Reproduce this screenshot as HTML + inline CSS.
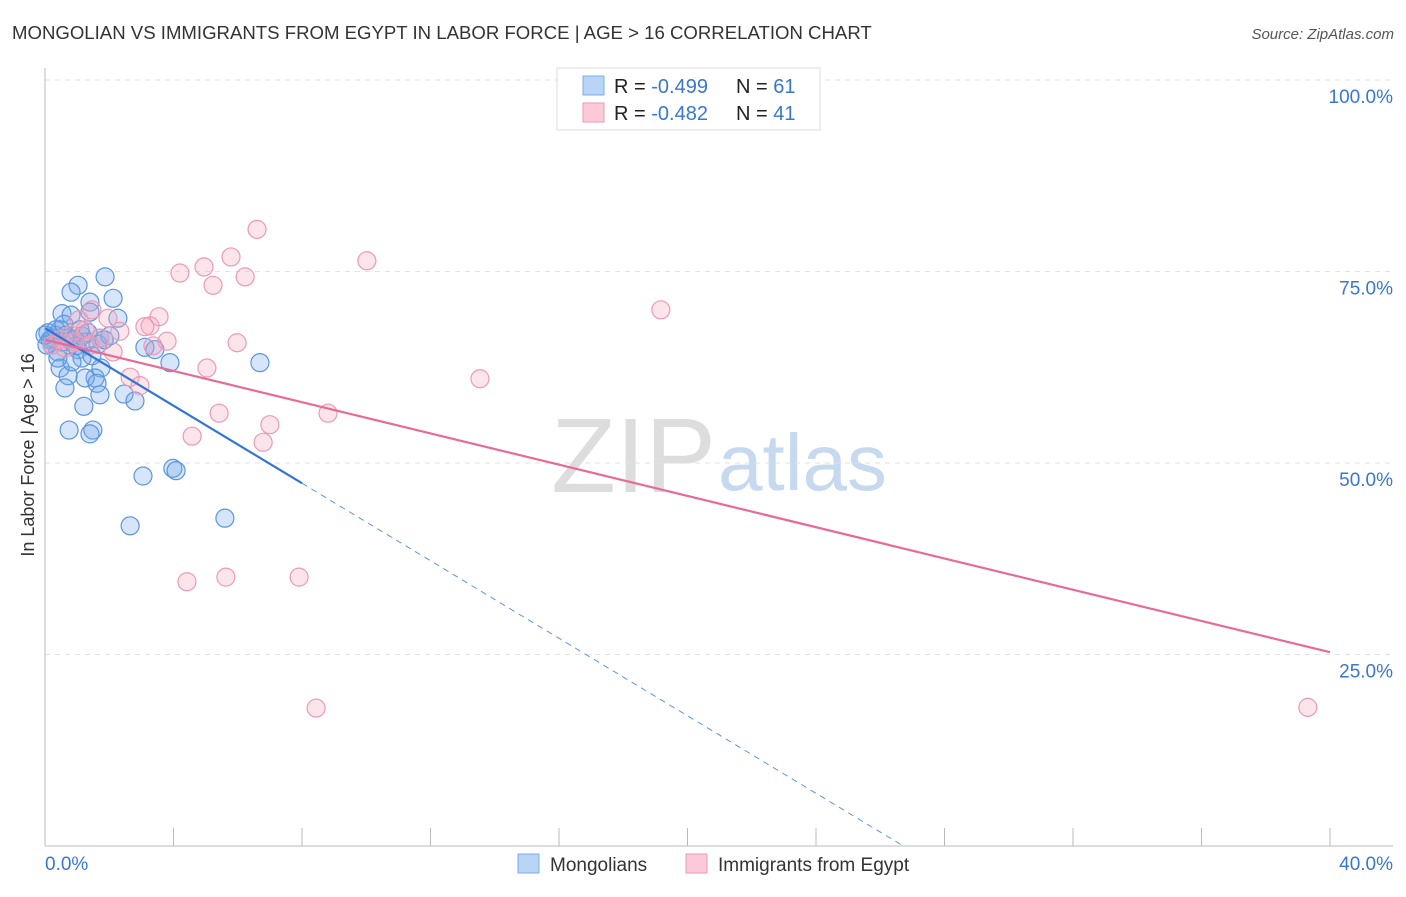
<!DOCTYPE html>
<html><head><meta charset="utf-8">
<style>
body{margin:0;background:#fff;font-family:"Liberation Sans",sans-serif;}
svg text{font-family:"Liberation Sans",sans-serif;}
</style></head>
<body>
<svg id="chart" width="1406" height="892">
<text x="12" y="39" font-size="18.6" fill="#333">MONGOLIAN VS IMMIGRANTS FROM EGYPT IN LABOR FORCE | AGE &gt; 16 CORRELATION CHART</text>
<text x="1394" y="39" font-size="15" fill="#555" font-style="italic" text-anchor="end">Source: ZipAtlas.com</text>
<text x="716" y="492" font-size="106" fill="#ddd" text-anchor="end" font-family="Liberation Serif">ZIP</text>
<text x="718" y="490" font-size="80" fill="#c6d9ef">atlas</text>
<text transform="translate(34,455) rotate(-90)" font-size="18" fill="#333" text-anchor="middle">In Labor Force | Age &gt; 16</text>
<g id="grid"></g><g id="axes"></g><g id="pts"></g><g id="lines"></g>
<g>
<rect x="557" y="68" width="263" height="62" fill="#fff" stroke="#ddd"/>
<rect x="583" y="76" width="21" height="19" fill="#b9d4f5" stroke="#7aaee8"/>
<rect x="583" y="103" width="21" height="19" fill="#fcc9d8" stroke="#ee9ab5"/>
<text x="614" y="93" font-size="20" fill="#222">R = <tspan fill="#3a76d0">-0.499</tspan><tspan x="736">N = </tspan><tspan fill="#3a76d0">61</tspan></text>
<text x="614" y="120" font-size="20" fill="#222">R = <tspan fill="#3a76d0">-0.482</tspan><tspan x="736">N = </tspan><tspan fill="#3a76d0">41</tspan></text>
</g>
<g>
<rect x="518" y="854" width="21" height="19" fill="#b9d4f5" stroke="#7aaee8"/>
<text x="550" y="871" font-size="19" fill="#333">Mongolians</text>
<rect x="686" y="854" width="21" height="19" fill="#fcc9d8" stroke="#ee9ab5"/>
<text x="718" y="871" font-size="19" fill="#333">Immigrants from Egypt</text>
</g>
</svg>
<script>
const blueX=[1.87,1.03,0.81,2.12,1.40,0.53,0.81,1.40,2.27,0.47,0.31,0.72,1.15,1.71,1.34,0.16,0.22,0.40,0.93,1.03,3.11,3.42,3.89,6.69,0.47,1.74,1.15,0.72,1.56,1.25,1.62,0.62,2.46,2.80,1.21,0.75,1.49,1.40,3.05,3.98,4.08,2.65,5.60,0.09,0.22,0.53,0.96,0.34,0.65,1.28,1.65,2.02,1.09,0.59,1.84,0.06,0.40,0.84,1.46,0.0,1.71];
const blueY=[74.3,73.2,72.3,71.5,71.0,69.5,69.3,69.7,68.9,67.4,66.7,66.3,66.6,66.3,67.0,66.1,65.4,64.5,66.1,64.8,65.1,64.8,63.1,63.1,62.4,62.4,63.7,61.4,61.1,61.1,60.4,59.8,59.0,58.1,57.4,54.3,54.3,53.8,48.3,49.3,49.0,41.8,42.8,67.0,66.3,65.8,65.3,67.4,66.7,65.8,65.5,66.6,67.4,68.1,66.1,65.4,63.7,63.2,64.0,66.7,58.9];
const pinkX=[6.60,10.02,5.79,4.95,4.20,6.23,5.23,19.17,3.55,1.46,1.96,1.06,3.27,3.11,2.33,3.80,5.98,3.36,2.12,5.04,2.65,2.96,13.54,5.42,8.81,7.00,4.58,6.79,4.42,5.63,7.91,8.44,39.31,0.47,0.78,1.25,1.71,0.22,0.62,0.93,1.40];
const pinkY=[80.5,76.4,76.9,75.6,74.8,74.3,73.2,70.0,69.1,70.0,68.9,68.7,67.9,67.8,67.2,65.9,65.7,65.3,64.5,62.4,61.2,60.1,61.0,56.5,56.5,55.0,53.5,52.7,34.5,35.1,35.1,18.0,18.1,66.1,66.7,67.4,66.3,65.4,65.0,65.8,65.4];
const blueTrend=[67.6,-2.53];   // intercept, slope
const pinkTrend=[66.1,-1.02];
const yTicks=[25,50,75,100];
const xTickLabels=["0.0%","40.0%"];
const NS="http://www.w3.org/2000/svg";
const X=v=>45+v*32.125, Y=v=>846-v*7.66;
function mk(tag,attrs,parent){const e=document.createElementNS(NS,tag);for(const k in attrs)e.setAttribute(k,attrs[k]);document.getElementById(parent).appendChild(e);return e;}
yTicks.forEach(t=>{
  const g=mk('line',{x1:45,x2:1393,y1:Y(t),y2:Y(t),stroke:'#e2e2e2','stroke-dasharray':'5,5'},'grid');
  
  
  const tx=mk('text',{x:1393,y:Y(t)+23,'font-size':19,fill:'#3a76d0','text-anchor':'end'},'grid');
  tx.textContent=t.toFixed(1)+'%';
  
  
});
const ax=mk('line',{x1:45,x2:1393,y1:846,y2:846,stroke:'#bbb'},'axes');


const ay=mk('line',{x1:45,x2:45,y1:68,y2:846,stroke:'#bbb'},'axes');


for(let i=1;i<=10;i++){const t=mk('line',{x1:X(i*4),x2:X(i*4),y1:828,y2:846,stroke:'#bbb'},'axes');
  
  }
const xl0=mk('text',{x:45,y:870,'font-size':19,fill:'#3a76d0'},'axes');xl0.textContent=xTickLabels[0];


const xl1=mk('text',{x:1393,y:870,'font-size':19,fill:'#3a76d0','text-anchor':'end'},'axes');xl1.textContent=xTickLabels[1];


blueX.forEach((x,i)=>{const c=mk('circle',{cx:X(x),cy:Y(blueY[i]),r:9,fill:'rgba(120,170,235,0.3)',stroke:'#5b95de','stroke-width':1.2},'pts');
  
  });
pinkX.forEach((x,i)=>{const c=mk('circle',{cx:X(x),cy:Y(pinkY[i]),r:9,fill:'rgba(245,165,190,0.3)',stroke:'#eb9ab6','stroke-width':1.2},'pts');
  
  });
const bEnd=8, bZero=-blueTrend[0]/blueTrend[1];
const bl=mk('line',{x1:X(0),y1:Y(blueTrend[0]),x2:X(bEnd),y2:Y(blueTrend[0]+blueTrend[1]*bEnd),stroke:'#2f74d6','stroke-width':2.2},'lines');


const bd=mk('line',{x1:X(bEnd),y1:Y(blueTrend[0]+blueTrend[1]*bEnd),x2:X(bZero),y2:Y(0),stroke:'#5b95de','stroke-width':1,'stroke-dasharray':'6,5'},'lines');


const pl=mk('line',{x1:X(0),y1:Y(pinkTrend[0]),x2:X(40),y2:Y(pinkTrend[0]+pinkTrend[1]*40),stroke:'#e76b96','stroke-width':2.2},'lines');


</script>
</body></html>
